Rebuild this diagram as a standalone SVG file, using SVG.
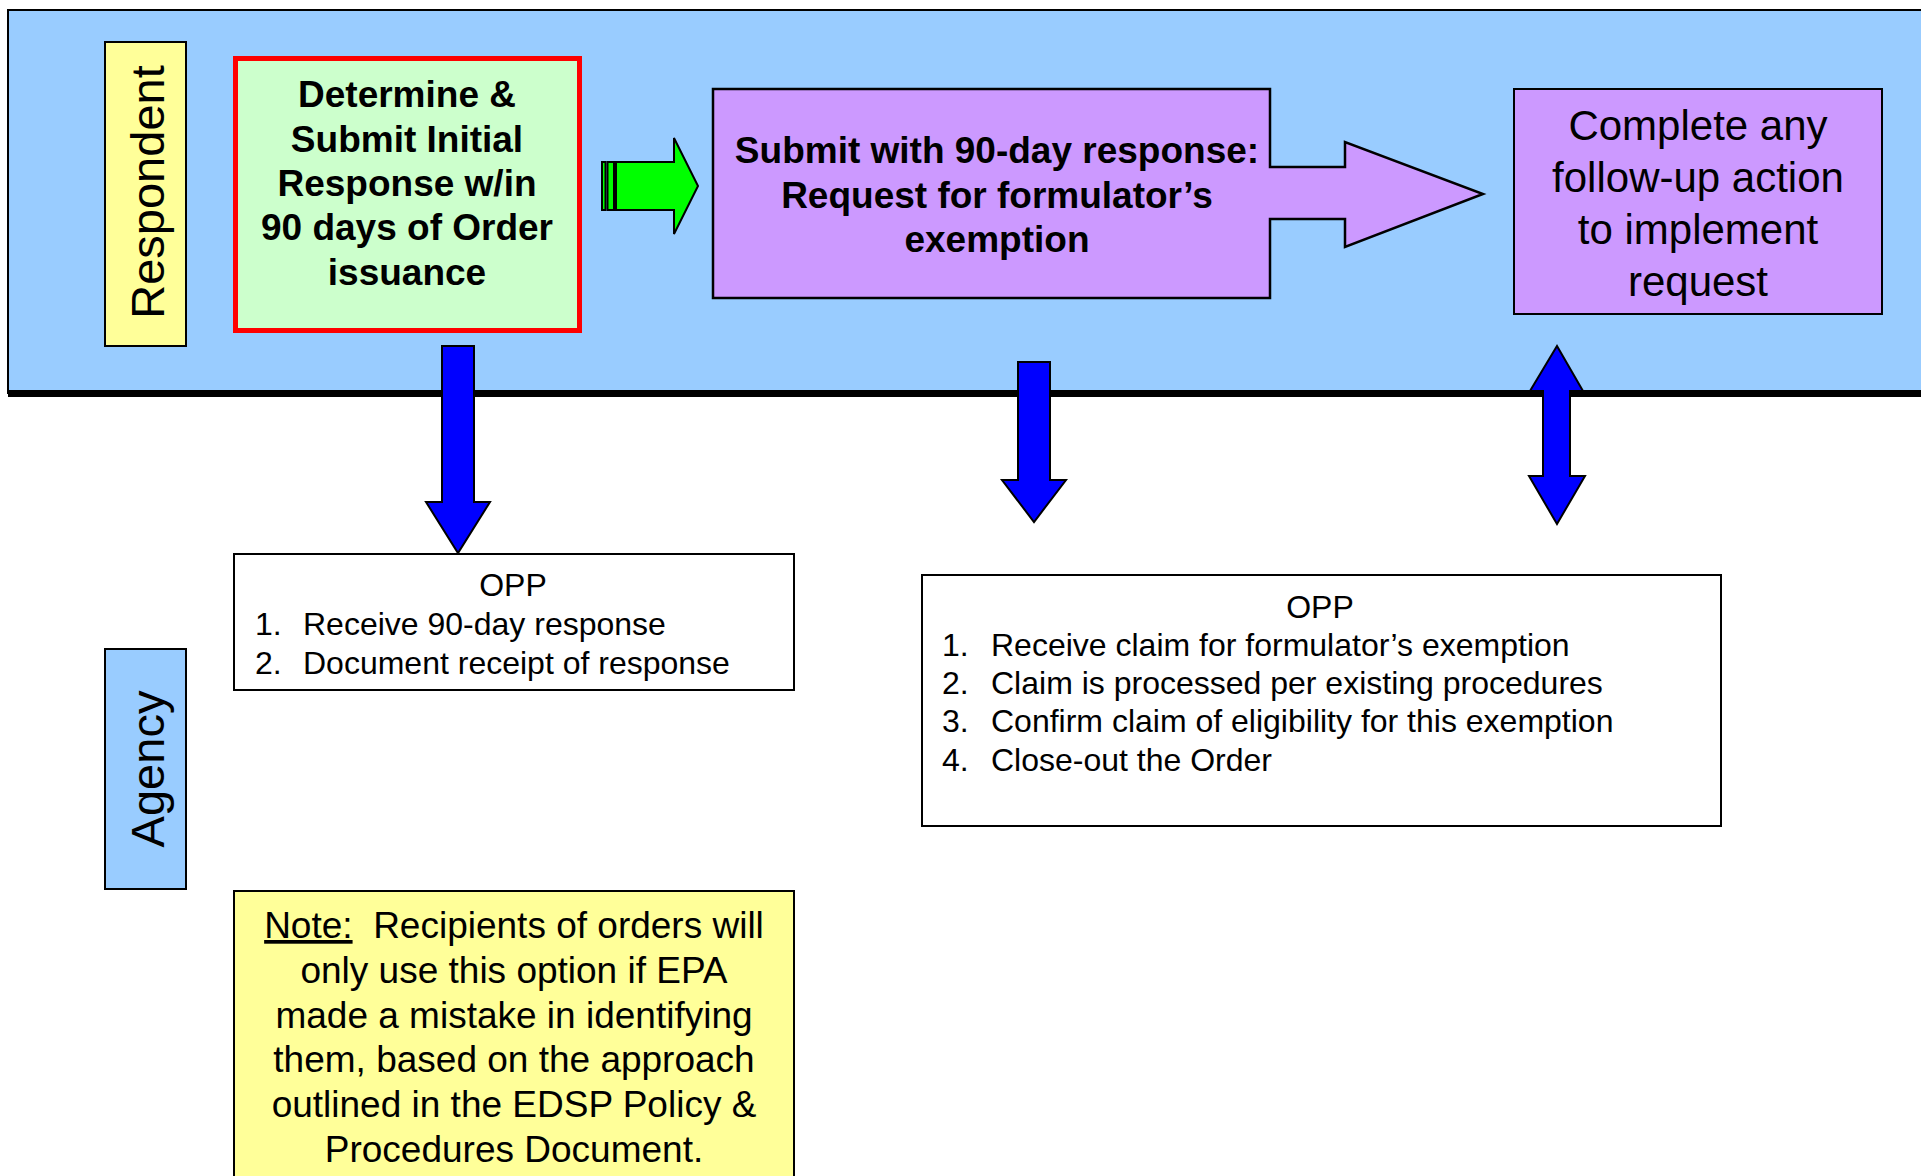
<svg xmlns="http://www.w3.org/2000/svg" width="1921" height="1176" viewBox="0 0 1921 1176">
<style>
text{font-family:"Liberation Sans",Arial,sans-serif;fill:#000}
.b{font-weight:bold;font-size:37px}
.lane{font-size:47px}
.big{font-size:42px}
.opp{font-size:32px}
.note{font-size:37px}
.blk{stroke:#000;stroke-width:2}
.blue{fill:#0000FF;stroke:#000;stroke-width:2;stroke-linejoin:miter}
</style>
<rect width="1921" height="1176" fill="#fff"/>
<g id="band">
<rect x="8" y="10" width="1925" height="383" fill="#99CCFF" stroke="#000" stroke-width="2"/>
<rect x="8" y="390" width="1913" height="7" fill="#000"/>
</g>
<g id="respondent-label">
<rect x="105" y="42" width="81" height="304" fill="#FFFF99" class="blk"/>
<text class="lane" text-anchor="middle" transform="translate(164,192) rotate(-90)">Respondent</text>
</g>
<g id="agency-label">
<rect x="105" y="649" width="81" height="240" fill="#99CCFF" class="blk"/>
<text class="lane" text-anchor="middle" transform="translate(164,769) rotate(-90)">Agency</text>
</g>
<g id="initial-response">
<rect x="235.5" y="58.5" width="344" height="272" fill="#CCFFCC" stroke="#FF0000" stroke-width="5"/>
<text class="b" text-anchor="middle" x="407"><tspan x="407" y="107">Determine &amp;</tspan><tspan x="407" y="152">Submit Initial</tspan><tspan x="407" y="196">Response w/in</tspan><tspan x="407" y="240">90 days of Order</tspan><tspan x="407" y="285">issuance</tspan></text>
</g>
<g id="submit-exemption">
<path d="M713 89 H1270 V167 H1345 V142 L1483 194 L1345 247 V219 H1270 V298 H713 Z" fill="#CC99FF" stroke="#000" stroke-width="2.5"/>
<text class="b" text-anchor="middle"><tspan x="997" y="163">Submit with 90-day response:</tspan><tspan x="997" y="208">Request for formulator’s</tspan><tspan x="997" y="252">exemption</tspan></text>
</g>
<g id="follow-up">
<rect x="1514" y="89" width="368" height="225" fill="#CC99FF" class="blk"/>
<text class="big" text-anchor="middle"><tspan x="1698" y="140">Complete any</tspan><tspan x="1698" y="192">follow-up action</tspan><tspan x="1698" y="244">to implement</tspan><tspan x="1698" y="296">request</tspan></text>
</g>
<g id="opp-1">
<rect x="234" y="554" width="560" height="136" fill="#fff" class="blk"/>
<text class="opp" text-anchor="middle" x="513" y="596">OPP</text>
<text class="opp"><tspan x="255" y="635">1.</tspan><tspan x="303" y="635">Receive 90-day response</tspan><tspan x="255" y="674">2.</tspan><tspan x="303" y="674">Document receipt of response</tspan></text>
</g>
<g id="opp-2">
<rect x="922" y="575" width="799" height="251" fill="#fff" class="blk"/>
<text class="opp" text-anchor="middle" x="1320" y="618">OPP</text>
<text class="opp"><tspan x="942" y="656">1.</tspan><tspan x="991" y="656">Receive claim for formulator’s exemption</tspan><tspan x="942" y="694">2.</tspan><tspan x="991" y="694">Claim is processed per existing procedures</tspan><tspan x="942" y="732">3.</tspan><tspan x="991" y="732">Confirm claim of eligibility for this exemption</tspan><tspan x="942" y="771">4.</tspan><tspan x="991" y="771">Close-out the Order</tspan></text>
</g>
<g id="note">
<rect x="234" y="891" width="560" height="300" fill="#FFFF99" class="blk"/>
<text class="note" text-anchor="middle" xml:space="preserve"><tspan x="514" y="938"><tspan text-decoration="underline">Note:</tspan>  Recipients of orders will</tspan><tspan x="514" y="983">only use this option if EPA</tspan><tspan x="514" y="1028">made a mistake in identifying</tspan><tspan x="514" y="1072">them, based on the approach</tspan><tspan x="514" y="1117">outlined in the EDSP Policy &amp;</tspan><tspan x="514" y="1162">Procedures Document.</tspan></text>
</g>
<g id="connectors">
<g id="green-arrow" fill="#00FF00" stroke="#000" stroke-width="2">
<rect x="602" y="162" width="3.5" height="48"/>
<rect x="607.5" y="162" width="6.5" height="48"/>
<path d="M616 162 H674 V138 L698 186 L674 234 V210 H616 Z"/>
</g>
<path class="blue" d="M442 346 H474 V502 H490 L458 553 L426 502 H442 Z"/>
<path class="blue" d="M1018 362 H1050 V480 H1066 L1034 522 L1002 480 H1018 Z"/>
<path class="blue" d="M1557 346 L1583 391 H1570 V476 H1585 L1557 524 L1529 476 H1543 V391 H1530 Z"/>
</g>
</svg>
